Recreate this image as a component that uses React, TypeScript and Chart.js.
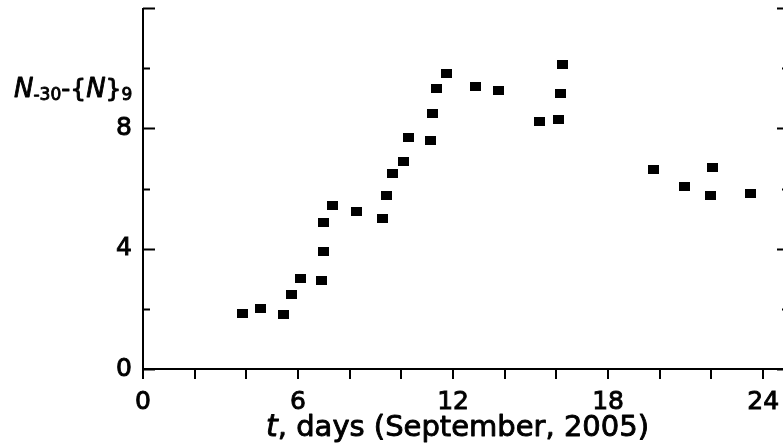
import React, { useEffect, useRef } from 'react';
import { Chart, registerables } from 'chart.js';

Chart.register(...registerables);

// Data
const tDays = [3.85, 4.53, 5.45, 5.74, 6.09, 6.92, 6.98, 6.99, 7.34, 8.28, 9.25, 9.43, 9.65, 10.1, 10.28, 11.13, 11.22, 11.35, 11.76, 12.88, 13.77, 15.36, 16.08, 16.17, 16.22, 19.74, 20.95, 22.05, 21.97, 23.51];
const nValues = [1.84, 2.0, 1.82, 2.46, 3.02, 2.93, 3.89, 4.87, 5.42, 5.22, 4.99, 5.77, 6.49, 6.91, 7.69, 7.6, 8.5, 9.33, 9.82, 9.38, 9.27, 8.22, 8.3, 9.17, 10.12, 6.62, 6.08, 6.7, 5.78, 5.84];

const xTicks = [0, 2, 4, 6, 8, 10, 12, 14, 16, 18, 20, 22, 24];
const xLabelled = [0, 6, 12, 18, 24];
const yTicks = [0, 2, 4, 6, 8, 10, 12];
const yLabelled = [0, 4, 8];
const yMajor = [0, 4, 8, 12];

const FONT = 'DejaVu Sans';
const STROKE = 0.9;

const yTitleParts = [
  { text: 'N', size: 26, italic: true, dy: 0 },
  { text: '-30', size: 17, italic: false, dy: 3 },
  { text: '-{', size: 25, italic: false, dy: 0 },
  { text: 'N', size: 26, italic: true, dy: 0 },
  { text: '}', size: 25, italic: false, dy: 0 },
  { text: '9', size: 17, italic: false, dy: 3 },
];

function drawText(ctx: CanvasRenderingContext2D, text: string, x: number, y: number) {
  ctx.strokeText(text, x, y);
  ctx.fillText(text, x, y);
}

const axesPlugin = {
  id: 'customAxes',
  afterDraw(chart: any) {
    const ctx = chart.ctx as CanvasRenderingContext2D;
    const xs = chart.scales.x;
    const ys = chart.scales.y;
    const left = xs.getPixelForValue(0);
    const right = xs.getPixelForValue(25);
    const bottom = ys.getPixelForValue(0);
    const top = ys.getPixelForValue(12);
    ctx.save();
    ctx.strokeStyle = '#000';
    ctx.lineWidth = 2;
    ctx.beginPath();
    // axes lines
    ctx.moveTo(left, top);
    ctx.lineTo(left, bottom + 1);
    ctx.moveTo(left - 1, bottom);
    ctx.lineTo(right + 1, bottom);
    ctx.moveTo(right, top);
    ctx.lineTo(right, bottom);
    // x ticks (outward)
    for (const v of xTicks) {
      const px = Math.round(xs.getPixelForValue(v));
      ctx.moveTo(px, bottom);
      ctx.lineTo(px, bottom + 10);
    }
    // y ticks (inward, both sides)
    for (const v of yTicks) {
      const py = Math.round(ys.getPixelForValue(v)) + 0.5;
      const len = yMajor.includes(v) ? 12 : 7;
      ctx.moveTo(left, py);
      ctx.lineTo(left + len, py);
      ctx.moveTo(right, py);
      ctx.lineTo(right - len, py);
    }
    ctx.stroke();

    // y title (horizontal, with subscripts)
    ctx.fillStyle = '#000';
    ctx.lineWidth = STROKE;
    ctx.lineJoin = 'round';
    ctx.textBaseline = 'alphabetic';
    ctx.textAlign = 'left';
    let x = 14;
    const baseY = 97;
    for (const p of yTitleParts) {
      ctx.font = `${p.italic ? 'italic ' : ''}${p.size}px "${FONT}"`;
      drawText(ctx, p.text, x, baseY + p.dy);
      x += ctx.measureText(p.text).width;
    }

    // x title
    const titleBase = 436;
    ctx.font = `italic 30px "${FONT}"`;
    drawText(ctx, 't', 266, titleBase);
    const tw = ctx.measureText('t').width;
    ctx.font = `29px "${FONT}"`;
    drawText(ctx, ', days (September, 2005)', 266 + tw, titleBase);
    ctx.restore();
  },
};

export default function App() {
  const ref = useRef<HTMLCanvasElement | null>(null);

  useEffect(() => {
    const canvas = ref.current;
    if (!canvas) return;
    const marker = document.createElement('canvas');
    marker.width = 11;
    marker.height = 9;
    const mctx = marker.getContext('2d')!;
    mctx.fillStyle = '#000';
    mctx.fillRect(0, 0, 11, 9);

    const tickFont = { family: FONT, size: 25 };

    const chart = new Chart(canvas, {
      type: 'scatter',
      data: {
        datasets: [
          {
            data: tDays.map((t, i) => ({ x: t, y: nValues[i] })),
            pointStyle: marker as any,
            backgroundColor: '#000',
            borderColor: '#000',
            pointRadius: 5,
            pointHoverRadius: 5,
          },
        ],
      },
      options: {
        responsive: false,
        animation: false,
        events: [],
        layout: { padding: { left: 0, top: 8, right: 11, bottom: 0 } },
        plugins: { legend: { display: false }, tooltip: { enabled: false } },
        scales: {
          x: {
            type: 'linear',
            min: 0,
            max: 25,
            afterFit: (s: any) => {
              s.height = 79;
              s.paddingLeft = 0;
              s.paddingRight = 0;
            },
            grid: { display: false, drawTicks: false },
            border: { display: false },
            ticks: {
              stepSize: 2,
              autoSkip: false,
              maxRotation: 0,
              includeBounds: false,
              padding: 18,
              color: '#000',
              textStrokeColor: '#000',
              textStrokeWidth: STROKE,
              font: tickFont,
              callback: (v: any) => (xLabelled.includes(Number(v)) ? String(v) : ''),
            },
          },
          y: {
            type: 'linear',
            min: 0,
            max: 12,
            afterFit: (s: any) => {
              s.width = 143;
              s.paddingTop = 0;
              s.paddingBottom = 0;
            },
            grid: { display: false, drawTicks: false },
            border: { display: false },
            ticks: {
              stepSize: 2,
              autoSkip: false,
              padding: 11,
              color: '#000',
              textStrokeColor: '#000',
              textStrokeWidth: STROKE,
              font: tickFont,
              callback: (v: any) => (yLabelled.includes(Number(v)) ? String(v) : ''),
            },
          },
        },
      },
      plugins: [axesPlugin],
    } as any);
    return () => chart.destroy();
  }, []);

  return (
    <div style={{ position: 'fixed', left: 0, top: 0, width: 783, height: 448, overflow: 'hidden', background: '#fff' }}>
      <canvas ref={ref} width={800} height={448} style={{ display: 'block' }} />
    </div>
  );
}
